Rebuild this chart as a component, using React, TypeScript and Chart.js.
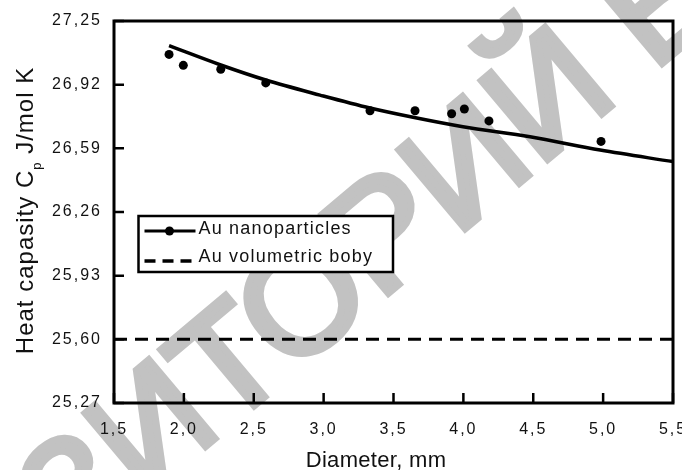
import React, { useEffect, useRef } from 'react';
import { Chart, registerables } from 'chart.js';

Chart.register(...registerables);

// ---- data ----
const diameters = [1.894, 1.996, 2.264, 2.586, 3.332, 3.654, 3.916, 4.007, 4.183, 4.985];
const heatCapacity = [27.077, 27.02, 27.0, 26.929, 26.785, 26.785, 26.769, 26.794, 26.732, 26.626];
const fitDiameters = [1.894, 2.264, 2.586, 2.974, 3.332, 3.64, 3.997, 4.477, 4.979, 5.5];
const fitValues = [27.122, 27.022, 26.944, 26.866, 26.799, 26.751, 26.702, 26.65, 26.581, 26.521];
const bulkDiameters = [1.5, 5.5];
const bulkValues = [25.6, 25.6];
const xTicks = [1.5, 2.0, 2.5, 3.0, 3.5, 4.0, 4.5, 5.0, 5.5];
const xTickLabels = ['1,5', '2,0', '2,5', '3,0', '3,5', '4,0', '4,5', '5,0', '5,5'];
const yTicks = [25.27, 25.6, 25.93, 26.26, 26.59, 26.92, 27.25];
const yTickLabels = ['25,27', '25,60', '25,93', '26,26', '26,59', '26,92', '27,25'];
const legendLabels = ['Au nanoparticles', 'Au volumetric boby'];
const xTitle = 'Diameter, mm';
const yTitleMain = 'Heat capasity C';
const yTitleSub = 'p';
const yTitleRest = ' J/mol K';
const watermarkText = 'РЕПОЗИТОРИЙ БГПУ';
const watermarkLead = 'РЕПОЗ';

const FONT = '"Liberation Sans", Arial, sans-serif';

const decorPlugin = {
  id: 'decor',
  beforeDraw(chart: any) {
    const ctx = chart.ctx;
    ctx.save();
    ctx.fillStyle = '#ffffff';
    ctx.fillRect(0, 0, chart.width, chart.height);
    // watermark
    ctx.letterSpacing = '0px';
    ctx.translate(142, 500);
    ctx.rotate(-40 * Math.PI / 180);
    ctx.font = '150px ' + FONT;
    ctx.fillStyle = '#c2c2c2';
    ctx.strokeStyle = '#c2c2c2';
    ctx.lineWidth = 7;
    ctx.lineJoin = 'miter';
    ctx.textAlign = 'left';
    ctx.textBaseline = 'alphabetic';
    const lead = ctx.measureText(watermarkLead).width;
    ctx.fillText(watermarkText, -lead, 0);
    ctx.strokeText(watermarkText, -lead, 0);
    ctx.restore();
    ctx.letterSpacing = '2px';
  },
  afterDraw(chart: any) {
    const ctx = chart.ctx;
    const a = chart.chartArea;
    const xs = chart.scales.x;
    const ys = chart.scales.y;
    ctx.save();
    ctx.strokeStyle = '#000';
    ctx.lineCap = 'butt';
    // tick marks (inside)
    ctx.lineWidth = 2.5;
    ctx.beginPath();
    xTicks.forEach((v) => {
      const px = xs.getPixelForValue(v);
      ctx.moveTo(px, a.bottom);
      ctx.lineTo(px, a.bottom - 10);
    });
    yTicks.forEach((v) => {
      const py = ys.getPixelForValue(v);
      ctx.moveTo(a.left, py);
      ctx.lineTo(a.left + 10, py);
    });
    ctx.stroke();
    // frame
    ctx.lineWidth = 3;
    ctx.strokeRect(a.left, a.top, a.right - a.left, a.bottom - a.top);

    // legend
    const lx = a.left + 24.5;
    const ly = a.top + 195;
    const lw = 254.5;
    const lh = 56;
    ctx.fillStyle = '#fff';
    ctx.fillRect(lx, ly, lw, lh);
    ctx.lineWidth = 2.5;
    ctx.strokeRect(lx, ly, lw, lh);
    // row 1
    ctx.lineWidth = 3;
    ctx.beginPath();
    ctx.moveTo(lx + 6, ly + 15);
    ctx.lineTo(lx + 57, ly + 15);
    ctx.stroke();
    ctx.fillStyle = '#000';
    ctx.beginPath();
    ctx.arc(lx + 31, ly + 15, 4.5, 0, Math.PI * 2);
    ctx.fill();
    // row 2
    ctx.lineWidth = 3.5;
    ctx.setLineDash([11, 7]);
    ctx.beginPath();
    ctx.moveTo(lx + 6, ly + 45);
    ctx.lineTo(lx + 56, ly + 45);
    ctx.stroke();
    ctx.setLineDash([]);
    ctx.font = '18px ' + FONT;
    ctx.letterSpacing = '1.2px';
    ctx.fillStyle = '#111';
    ctx.textAlign = 'left';
    ctx.textBaseline = 'alphabetic';
    ctx.fillText(legendLabels[0], lx + 60, ly + 18);
    ctx.fillText(legendLabels[1], lx + 60, ly + 46);

    // x title
    ctx.font = '22px ' + FONT;
    ctx.letterSpacing = '0.3px';
    ctx.textAlign = 'center';
    ctx.fillText(xTitle, 376, 467);

    // y title (rotated, with subscript)
    ctx.letterSpacing = '1px';
    ctx.textAlign = 'left';
    ctx.font = '24px ' + FONT;
    const w1 = ctx.measureText(yTitleMain).width;
    const w3 = ctx.measureText(yTitleRest).width;
    ctx.font = '13px ' + FONT;
    const w2 = ctx.measureText(yTitleSub).width;
    const total = w1 + w2 + w3;
    ctx.translate(33, 210.5 + total / 2);
    ctx.rotate(-Math.PI / 2);
    ctx.font = '24px ' + FONT;
    ctx.fillText(yTitleMain, 0, 0);
    ctx.font = '13px ' + FONT;
    ctx.fillText(yTitleSub, w1, 8);
    ctx.font = '24px ' + FONT;
    ctx.fillText(yTitleRest, w1 + w2, 0);
    ctx.restore();
  },
};

export default function App() {
  const ref = useRef<HTMLCanvasElement | null>(null);
  useEffect(() => {
    if (!ref.current) return;
    const chart = new Chart(ref.current, {
      type: 'scatter',
      data: {
        datasets: [
          {
            label: legendLabels[0] + ' fit',
            data: fitDiameters.map((x, i) => ({ x, y: fitValues[i] })),
            showLine: true,
            borderColor: '#000',
            borderWidth: 3.5,
            pointRadius: 0,
            tension: 0.4,
            cubicInterpolationMode: 'monotone',
            fill: false,
          },
          {
            label: legendLabels[0],
            data: diameters.map((x, i) => ({ x, y: heatCapacity[i] })),
            showLine: false,
            backgroundColor: '#000',
            borderColor: '#000',
            borderWidth: 0,
            pointRadius: 4.5,
          },
          {
            label: legendLabels[1],
            data: bulkDiameters.map((x, i) => ({ x, y: bulkValues[i] })),
            showLine: true,
            borderColor: '#000',
            borderWidth: 3,
            borderDash: [13, 8],
            pointRadius: 0,
            fill: false,
          },
        ],
      } as any,
      options: {
        responsive: false,
        maintainAspectRatio: false,
        devicePixelRatio: 1,
        animation: false,
        layout: { padding: { left: 0, right: 9, top: 21, bottom: 0 } },
        plugins: { legend: { display: false }, tooltip: { enabled: false }, title: { display: false } },
        scales: {
          x: {
            type: 'linear',
            min: 1.5,
            max: 5.5,
            grid: { display: false, drawTicks: false },
            border: { display: false },
            afterBuildTicks: (scale: any) => {
              scale.ticks = xTicks.map((v) => ({ value: v }));
            },
            afterFit: (scale: any) => {
              scale.height = 67;
              scale.paddingLeft = 0;
              scale.paddingRight = 0;
            },
            ticks: {
              autoSkip: false,
              maxRotation: 0,
              padding: 17,
              color: '#111',
              font: { family: FONT, size: 16 },
              callback: (_v: any, i: number) => xTickLabels[i],
            },
          },
          y: {
            type: 'linear',
            min: 25.27,
            max: 27.25,
            grid: { display: false, drawTicks: false },
            border: { display: false },
            afterBuildTicks: (scale: any) => {
              scale.ticks = yTicks.map((v) => ({ value: v }));
            },
            afterFit: (scale: any) => {
              scale.width = 114;
              scale.paddingTop = 0;
              scale.paddingBottom = 0;
            },
            ticks: {
              autoSkip: false,
              padding: 12,
              color: '#111',
              font: { family: FONT, size: 16 },
              callback: (_v: any, i: number) => yTickLabels[i],
            },
          },
        },
      } as any,
      plugins: [decorPlugin],
    });
    return () => chart.destroy();
  }, []);
  return (
    <div style={{ position: 'fixed', left: 0, top: 0, width: 682, height: 470, background: '#fff' }}>
      <canvas ref={ref} width={682} height={470} style={{ display: 'block', width: 682, height: 470 }} />
    </div>
  );
}
